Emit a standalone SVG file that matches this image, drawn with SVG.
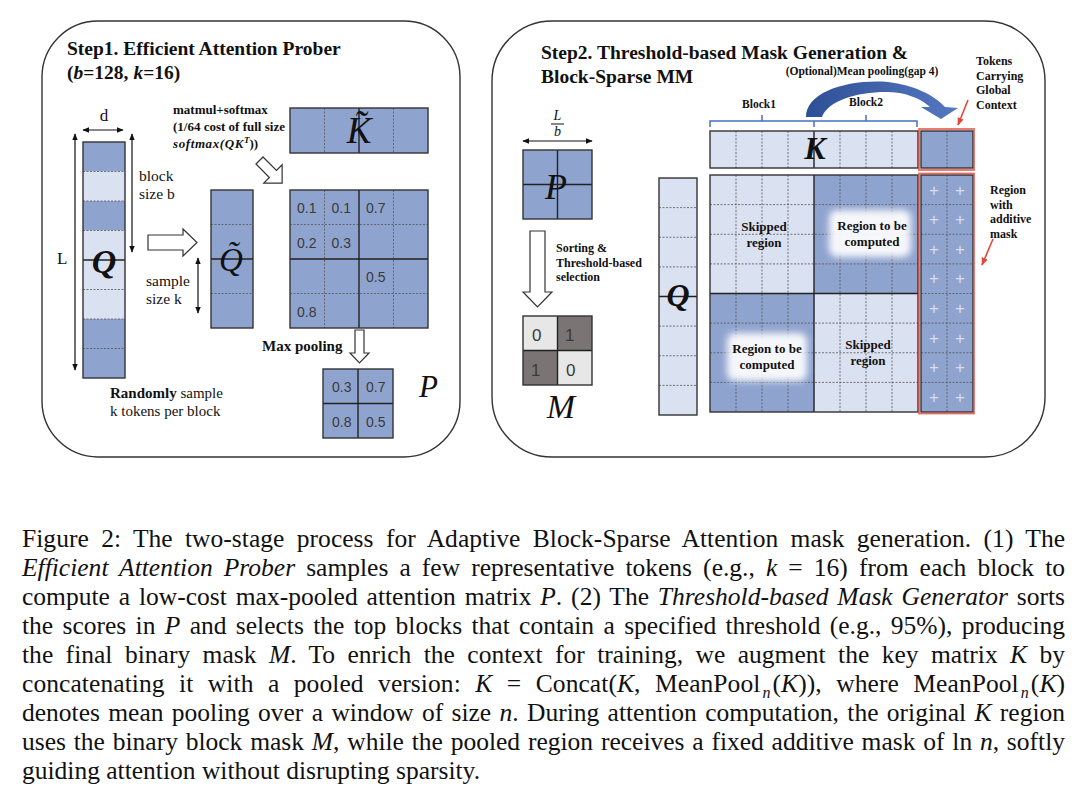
<svg xmlns="http://www.w3.org/2000/svg" width="1080" height="800" viewBox="0 0 1080 800">
<style>
.dk{fill:#8fa3cf}
.lt{fill:#dae1f0}
.ob{fill:none;stroke:#333;stroke-width:1.4}
.dl{stroke:#555;stroke-width:0.8;stroke-dasharray:2 1.5;fill:none}
.sl{stroke:#222;stroke-width:1.4;fill:none}
.panel{fill:#fff;stroke:#333;stroke-width:1.4}
.serif{font-family:'Liberation Serif','Times New Roman',serif;fill:#111}
.b{font-weight:bold}
.i{font-style:italic}
.num{font-family:'Liberation Sans',Arial,sans-serif;font-size:14px;fill:#3a3a3a}
.hollow{fill:#fff;stroke:#333;stroke-width:1.2}
.dim{stroke:#111;stroke-width:1.2;fill:none;marker-start:url(#ah);marker-end:url(#ah)}
.plus{font-family:'Liberation Sans',Arial,sans-serif;font-size:17px;fill:#d8def0;text-anchor:middle}
.cap{font-family:'Liberation Serif','Times New Roman',serif;font-size:25.5px;fill:#111}
.brace{stroke:#4472c4;stroke-width:1.5;fill:none}
.red{stroke:#e0483c;stroke-width:1.6;fill:none;marker-end:url(#rh)}
</style>
<defs>
<marker id="ah" viewBox="0 0 10 10" refX="9" refY="5" markerWidth="7" markerHeight="7" orient="auto-start-reverse" markerUnits="userSpaceOnUse">
<path d="M0,1 L10,5 L0,9 Z" fill="#111"/>
</marker>
<marker id="rh" viewBox="0 0 10 10" refX="9" refY="5" markerWidth="8" markerHeight="8" orient="auto" markerUnits="userSpaceOnUse">
<path d="M0,1 L10,5 L0,9 Z" fill="#e0483c"/>
</marker>
<linearGradient id="bg" x1="0" y1="0" x2="1" y2="0">
<stop offset="0" stop-color="#2c4f96"/>
<stop offset="1" stop-color="#5578c0"/>
</linearGradient>
<filter id="glow" x="-30%" y="-30%" width="160%" height="160%">
<feGaussianBlur stdDeviation="3.5"/>
</filter>
</defs>
<rect width="1080" height="800" fill="#fff"/>

<!-- Panels -->
<g id="panel1"><rect class="panel" x="42" y="21" width="418" height="436" rx="56"/></g>
<g id="panel2"><rect class="panel" x="492" y="21" width="553" height="436" rx="60"/></g>

<!-- Step 1 title -->
<g id="title1">
<text class="serif b" x="67" y="55" font-size="19.5">Step1. Efficient Attention Prober</text>
<text class="serif b" x="67" y="79" font-size="19.5">(<tspan class="i">b</tspan>=128, <tspan class="i">k</tspan>=16)</text>
</g>

<!-- Q column left -->
<g id="Q-left">
<rect class="dk" x="83" y="142" width="42" height="29.5"/>
<rect class="lt" x="83" y="171.5" width="42" height="29.5"/>
<rect class="dk" x="83" y="201" width="42" height="29.5"/>
<rect class="lt" x="83" y="230.5" width="42" height="88.5"/>
<rect class="dk" x="83" y="319" width="42" height="59"/>
<path class="dl" d="M83,171.5H125M83,201H125M83,230.5H125M83,289.5H125M83,319H125M83,348.5H125"/>
<path class="sl" d="M83,260H125"/>
<rect class="ob" x="83" y="142" width="42" height="236"/>
<text class="serif b i" x="104" y="273" font-size="34" text-anchor="middle">Q</text>
<text class="serif" x="104" y="121" font-size="17" text-anchor="middle">d</text>
<text class="serif" x="57" y="264" font-size="17">L</text>
<text class="serif" x="139" y="181" font-size="15.5">block</text>
<text class="serif" x="139" y="199" font-size="15.5">size b</text>
</g>

<!-- Q tilde -->
<g id="Q-tilde">
<rect class="dk" x="211" y="190" width="42" height="138"/>
<path class="dl" d="M211,224.5H253M211,293.5H253"/>
<path class="sl" d="M211,259H253"/>
<rect class="ob" x="211" y="190" width="42" height="138"/>
<text class="serif i" x="231" y="271" font-size="33" text-anchor="middle">Q&#x303;</text>
<text class="serif" x="146" y="286" font-size="15.5">sample</text>
<text class="serif" x="146" y="304" font-size="15.5">size k</text>
</g>

<!-- K tilde -->
<g id="K-tilde">
<rect class="dk" x="290" y="108" width="138" height="45"/>
<path class="dl" d="M324.5,108V153M393.5,108V153"/>
<path class="sl" d="M359,108V153"/>
<rect class="ob" x="290" y="108" width="138" height="45"/>
<text class="serif i" x="359" y="143" font-size="37" text-anchor="middle">K&#x303;</text>
</g>

<!-- matmul text -->
<g id="matmul-label">
<text class="serif b" x="173" y="114" font-size="13">matmul+softmax</text>
<text class="serif b" x="173" y="131" font-size="13">(1/64 cost of full size</text>
<text class="serif b" x="173" y="148" font-size="13"><tspan class="i" letter-spacing="0.6">softmax(QK</tspan><tspan class="i" font-size="9" dy="-5">T</tspan><tspan dy="5">))</tspan></text>
</g>

<!-- attention matrix -->
<g id="attn-matrix">
<rect class="dk" x="290" y="190" width="138" height="138"/>
<path class="dl" d="M324.5,190V328M393.5,190V328M290,224.5H428M290,293.5H428"/>
<path class="sl" d="M359,190V328M290,259H428"/>
<rect class="ob" x="290" y="190" width="138" height="138"/>
<text class="num" x="297" y="213">0.1</text>
<text class="num" x="331.5" y="213">0.1</text>
<text class="num" x="366" y="213">0.7</text>
<text class="num" x="297" y="247.5">0.2</text>
<text class="num" x="331.5" y="247.5">0.3</text>
<text class="num" x="366" y="282">0.5</text>
<text class="num" x="297" y="316.5">0.8</text>
</g>

<!-- Max pooling label -->
<g id="maxpool-label"><text class="serif b" x="262" y="351" font-size="15">Max pooling</text></g>

<!-- P matrix left -->
<g id="P-left">
<rect class="dk" x="323" y="369" width="70" height="69"/>
<path class="sl" d="M358,369V438M323,403.5H393"/>
<rect class="ob" x="323" y="369" width="70" height="69"/>
<text class="num" x="332" y="392">0.3</text>
<text class="num" x="366" y="392">0.7</text>
<text class="num" x="332" y="427">0.8</text>
<text class="num" x="366" y="427">0.5</text>
<text class="serif i" x="419" y="397" font-size="31">P</text>
</g>

<!-- Randomly sample -->
<g id="random-label">
<text class="serif" x="110" y="398" font-size="15"><tspan class="b">Randomly</tspan> sample</text>
<text class="serif" x="110" y="416" font-size="15">k tokens per block</text>
</g>

<!-- Step 2 title -->
<g id="title2">
<text class="serif b" x="541" y="59" font-size="19.5">Step2. Threshold-based Mask Generation &amp;</text>
<text class="serif b" x="541" y="83" font-size="19.5">Block-Sparse MM</text>
</g>

<!-- P right -->
<g id="P-right">
<text class="serif i" x="557.5" y="120" font-size="14" text-anchor="middle">L</text>
<path d="M551,124H564" stroke="#111" stroke-width="1"/>
<text class="serif i" x="557.5" y="136" font-size="14" text-anchor="middle">b</text>
<rect class="dk" x="523" y="150" width="69" height="69"/>
<path class="sl" d="M557.5,150V219M523,184.5H592"/>
<rect class="ob" x="523" y="150" width="69" height="69"/>
<text class="serif i" x="556" y="199" font-size="36" text-anchor="middle">P</text>
</g>

<!-- Sorting label -->
<g id="sorting-label">
<text class="serif b" x="556" y="252" font-size="12">Sorting &amp;</text>
<text class="serif b" x="556" y="267" font-size="12">Threshold-based</text>
<text class="serif b" x="556" y="281" font-size="12">selection</text>
</g>

<!-- M -->
<g id="M-mask">
<rect x="523" y="316" width="34.5" height="34.5" fill="#e7e7e7"/>
<rect x="557.5" y="316" width="34.5" height="34.5" fill="#7a7574"/>
<rect x="523" y="350.5" width="34.5" height="34.5" fill="#7a7574"/>
<rect x="557.5" y="350.5" width="34.5" height="34.5" fill="#e7e7e7"/>
<path class="sl" d="M557.5,316V385M523,350.5H592"/>
<rect class="ob" x="523" y="316" width="69" height="69"/>
<text class="num" x="532" y="341" style="font-size:17px">0</text>
<text class="num" x="565" y="341" style="font-size:17px">1</text>
<text class="num" x="531" y="376" style="font-size:17px">1</text>
<text class="num" x="566" y="376" style="font-size:17px">0</text>
<text class="serif i" x="561" y="418" font-size="34" text-anchor="middle">M</text>
</g>

<!-- Q right -->
<g id="Q-right">
<rect class="lt" x="659" y="178" width="38" height="237"/>
<path class="dl" d="M659,207.6H697M659,237.25H697M659,266.9H697M659,326.1H697M659,355.75H697M659,385.4H697"/>
<path class="sl" d="M659,296.5H697"/>
<rect class="ob" x="659" y="178" width="38" height="237"/>
<text class="serif b i" x="678" y="306" font-size="32" text-anchor="middle">Q</text>
</g>

<!-- K right -->
<g id="K-right">
<rect class="lt" x="710" y="131" width="208" height="37"/>
<path class="dl" d="M736,131V168M762,131V168M788,131V168M840,131V168M866,131V168M892,131V168"/>
<path class="sl" d="M814,131V168"/>
<rect class="ob" x="710" y="131" width="208" height="37"/>
<text class="serif b i" x="815" y="159" font-size="32" text-anchor="middle">K</text>
<path class="brace" d="M710,127V121H814V127M762,121V115M814,121H917V127M866,121V115"/>
<text class="serif b" x="759" y="108" font-size="11.5" text-anchor="middle">Block1</text>
<text class="serif b" x="866" y="106" font-size="11.5" text-anchor="middle">Block2</text>
</g>

<!-- K pooled -->
<g id="K-pooled">
<rect class="dk" x="921" y="131" width="52" height="37"/>
<path class="dl" d="M947,131V168"/>
<rect class="ob" x="921" y="131" width="52" height="37"/>
<rect x="919" y="129" width="55" height="41" fill="none" stroke="#e0483c" stroke-width="1.8" opacity="0.8"/>
</g>

<!-- main attention grid -->
<g id="sparse-grid">
<rect class="lt" x="710" y="175" width="104" height="118.5"/>
<rect class="dk" x="814" y="175" width="104" height="118.5"/>
<rect class="dk" x="710" y="293.5" width="104" height="118.5"/>
<rect class="lt" x="814" y="293.5" width="104" height="118.5"/>
<path class="dl" d="M736,175V412M762,175V412M788,175V412M840,175V412M866,175V412M892,175V412M710,204.6H918M710,234.25H918M710,263.9H918M710,323.1H918M710,352.75H918M710,382.4H918"/>
<path class="sl" d="M814,175V412M710,293.5H918"/>
<rect class="ob" x="710" y="175" width="208" height="237"/>
<rect x="829" y="210" width="82" height="47" rx="8" fill="#fff" opacity="0.92" filter="url(#glow)"/>
<rect x="727" y="333" width="80" height="48" rx="8" fill="#fff" opacity="0.92" filter="url(#glow)"/>
<text class="serif b" x="872" y="230" font-size="13" text-anchor="middle">Region to be</text>
<text class="serif b" x="872" y="246" font-size="13" text-anchor="middle">computed</text>
<text class="serif b" x="767" y="353" font-size="13" text-anchor="middle">Region to be</text>
<text class="serif b" x="767" y="369" font-size="13" text-anchor="middle">computed</text>
<text class="serif b" x="764" y="231" font-size="13" text-anchor="middle">Skipped</text>
<text class="serif b" x="764" y="247" font-size="13" text-anchor="middle">region</text>
<text class="serif b" x="868" y="349" font-size="13" text-anchor="middle">Skipped</text>
<text class="serif b" x="868" y="365" font-size="13" text-anchor="middle">region</text>
</g>

<!-- additive mask column -->
<g id="additive-column">
<rect class="dk" x="921" y="175" width="52" height="237"/>
<path class="dl" d="M947,175V412M921,204.6H973M921,234.25H973M921,263.9H973M921,293.5H973M921,323.1H973M921,352.75H973M921,382.4H973"/>
<rect class="ob" x="921" y="175" width="52" height="237"/>
<rect x="919" y="173.5" width="55" height="240" fill="none" stroke="#e0483c" stroke-width="1.8" opacity="0.8"/>
<text class="plus" x="934" y="195.5">+</text><text class="plus" x="960" y="195.5">+</text>
<text class="plus" x="934" y="225">+</text><text class="plus" x="960" y="225">+</text>
<text class="plus" x="934" y="254.7">+</text><text class="plus" x="960" y="254.7">+</text>
<text class="plus" x="934" y="284.3">+</text><text class="plus" x="960" y="284.3">+</text>
<text class="plus" x="934" y="314">+</text><text class="plus" x="960" y="314">+</text>
<text class="plus" x="934" y="343.6">+</text><text class="plus" x="960" y="343.6">+</text>
<text class="plus" x="934" y="373.2">+</text><text class="plus" x="960" y="373.2">+</text>
<text class="plus" x="934" y="402.8">+</text><text class="plus" x="960" y="402.8">+</text>
</g>

<!-- right labels -->
<g id="meanpool-label"><text class="serif b" x="862" y="75" font-size="11.5" text-anchor="middle">(Optional)Mean pooling(gap 4)</text></g>
<g id="tokens-label">
<text class="serif b" x="976" y="65" font-size="12">Tokens</text>
<text class="serif b" x="976" y="79.5" font-size="12">Carrying</text>
<text class="serif b" x="976" y="94" font-size="12">Global</text>
<text class="serif b" x="976" y="108.5" font-size="12">Context</text>
</g>
<g id="region-label">
<text class="serif b" x="990" y="194" font-size="12">Region</text>
<text class="serif b" x="990" y="208.5" font-size="12">with</text>
<text class="serif b" x="990" y="223" font-size="12">additive</text>
<text class="serif b" x="990" y="237.5" font-size="12">mask</text>
</g>

<!-- connectors -->
<g id="connectors">
<line class="dim" x1="83" y1="130" x2="123" y2="130"/>
<line class="dim" x1="75" y1="134" x2="75" y2="370"/>
<line class="dim" x1="132" y1="134" x2="132" y2="252"/>
<line class="dim" x1="198" y1="258" x2="198" y2="313"/>
<line class="dim" x1="523" y1="141" x2="592" y2="141"/>
<polygon class="hollow" points="148,235 183,235 183,229 197,242.5 183,256 183,250 148,250"/>
<polygon class="hollow" transform="translate(259.5,160.5) rotate(45)" points="0,-5 19,-5 19,-13 32,0 19,13 19,5 0,5"/>
<polygon class="hollow" points="355,330 364,330 364,353 369,353 359.5,363 350,353 355,353"/>
<polygon class="hollow" points="530,231 545,231 545,292 552,292 537.5,307 523,292 530,292"/>
<path fill="url(#bg)" d="M806,117 C806,92 848,79 888,82 C914,85 934,95 945,107 L958,108 L941,119 L921,107 L930,107 C920,98 905,92 886,92 C856,92 828,101 822,117 Z"/>
<line class="red" x1="968" y1="100" x2="958" y2="125"/>
<line class="red" x1="993" y1="239" x2="982" y2="265"/>
</g>

<!-- caption -->
<g id="caption">
<text class="cap" x="22" y="547" word-spacing="5.9" textLength="1043">Figure 2: The two-stage process for Adaptive Block-Sparse Attention mask generation. (1) The</text>
<text class="cap" x="22" y="576" word-spacing="4.7" textLength="1043"><tspan font-style="italic">Efficient Attention Prober</tspan> samples a few representative tokens (e.g., <tspan font-style="italic">k</tspan> = 16) from each block to</text>
<text class="cap" x="22" y="605" word-spacing="2.5" textLength="1043">compute a low-cost max-pooled attention matrix <tspan font-style="italic">P</tspan>. (2) The <tspan font-style="italic">Threshold-based Mask Generator</tspan> sorts</text>
<text class="cap" x="22" y="634" word-spacing="3" textLength="1043">the scores in <tspan font-style="italic">P</tspan> and selects the top blocks that contain a specified threshold (e.g., 95%), producing</text>
<text class="cap" x="22" y="663" word-spacing="6" textLength="1043">the final binary mask <tspan font-style="italic">M</tspan>. To enrich the context for training, we augment the key matrix <tspan font-style="italic">K</tspan> by</text>
<text class="cap" x="22" y="692" word-spacing="8" textLength="1043">concatenating it with a pooled version: <tspan font-style="italic">K</tspan> = Concat(<tspan font-style="italic">K</tspan>, MeanPool<tspan font-style="italic" font-size="16" dy="6" dx="2">n</tspan><tspan dy="-6" dx="2">(</tspan><tspan font-style="italic">K</tspan>)), where MeanPool<tspan font-style="italic" font-size="16" dy="6" dx="2">n</tspan><tspan dy="-6" dx="2">(</tspan><tspan font-style="italic">K</tspan>)</text>
<text class="cap" x="22" y="721" word-spacing="2" textLength="1043">denotes mean pooling over a window of size <tspan font-style="italic">n</tspan>. During attention computation, the original <tspan font-style="italic">K</tspan> region</text>
<text class="cap" x="22" y="750" word-spacing="1.4" textLength="1043">uses the binary block mask <tspan font-style="italic">M</tspan>, while the pooled region receives a fixed additive mask of ln <tspan font-style="italic">n</tspan>, softly</text>
<text class="cap" x="22" y="779">guiding attention without disrupting sparsity.</text>
</g>
</svg>
